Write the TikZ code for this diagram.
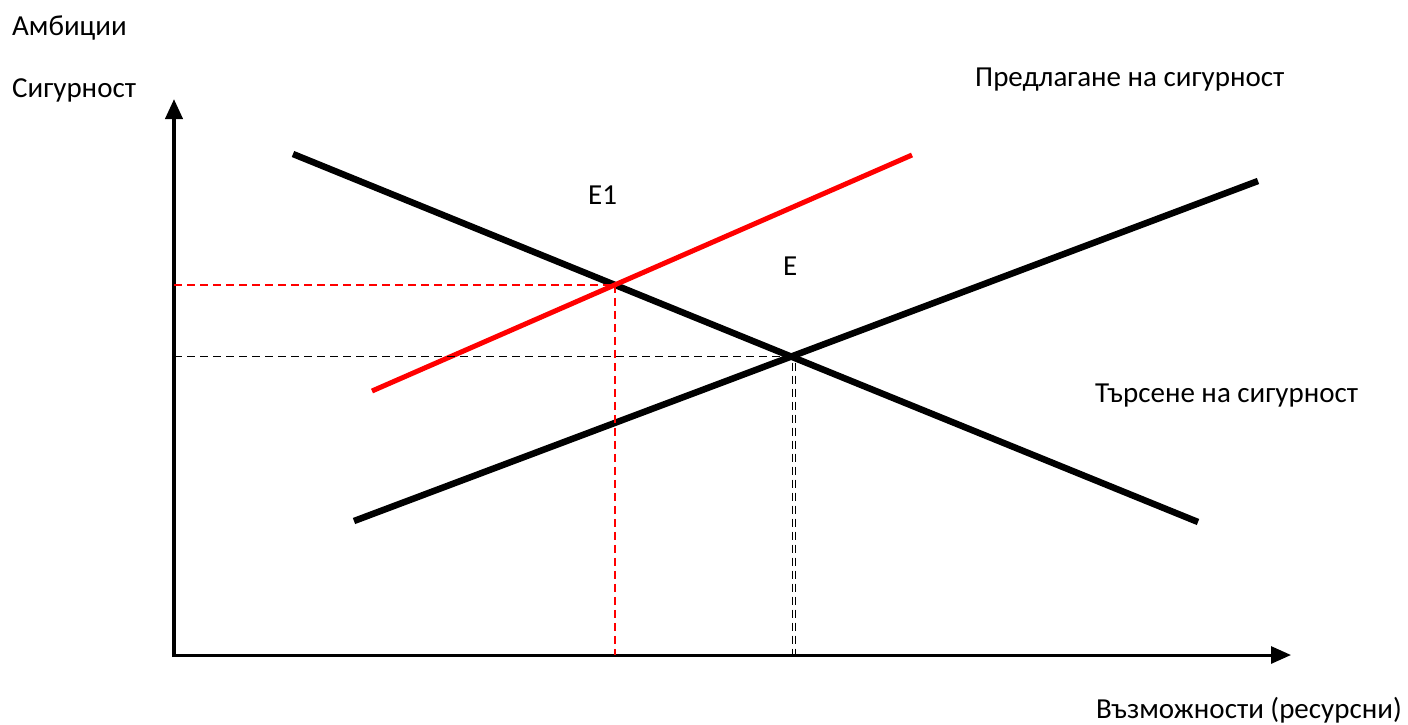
\documentclass[tikz,border=0pt]{standalone}
\usepackage{fontspec}
\setmainfont{Carlito}
\usetikzlibrary{arrows.meta,calc}
\begin{document}
\begin{tikzpicture}[x=1pt,y=-1pt,
  lbl/.style={font=\fontsize{29}{34}\selectfont, inner sep=0pt, text=black},
  axis/.style={-{Triangle[length=20pt,width=17pt]}},
  curve/.style={line width=6.5pt},
  redcurve/.style={line width=5pt, red},
  guide/.style={line width=1.8pt, dash pattern=on 8pt off 5pt}
]
\useasboundingbox (0,0) rectangle (1408,724);
% axes
\coordinate (O) at (174,655);
\coordinate (ytip) at (174,99);
\coordinate (xtip) at (1291,655);
\draw[axis, line width=4pt] ($(O)+(0,2)$) -- (ytip);
\draw[axis, line width=3pt] ($(O)+(-2,0)$) -- (xtip);
% curves
\coordinate (d1) at (293,154);
\coordinate (d2) at (1198,522);
\coordinate (s1) at (354,521);
\coordinate (s2) at (1258,181);
\coordinate (r1) at (372,391);
\coordinate (r2) at (912,155);
\draw[curve] (d1) -- (d2);
\draw[curve] (s1) -- (s2);
\draw[redcurve] (r1) -- (r2);
% equilibria
\coordinate (E) at (intersection of d1--d2 and s1--s2);
\coordinate (E1) at (intersection of d1--d2 and r1--r2);
\coordinate (Ey) at (O |- E);
\coordinate (E1y) at (O |- E1);
\coordinate (Ex) at (E |- O);
\coordinate (E1x) at (E1 |- O);
\draw[guide, red] (E1y) -- (E1);
\draw[guide, red] (E1) -- (E1x);
\draw[guide, black] (Ey) -- (E);
\draw[guide, black, line width=1.4pt] ($(E)+(1,6)$) -- ($(Ex)+(1,0)$);
\draw[guide, black, line width=1.4pt] ($(E)+(4.5,6)$) -- ($(Ex)+(4.5,0)$);
% labels
\node[lbl, anchor=base west] (amb) at (12,35) {Амбиции};
\node[lbl, anchor=base west] (sig) at (12,97) {Сигурност};
\node[lbl, anchor=base west] (supply) at (975,86) {Предлагане на сигурност};
\node[lbl, anchor=base west] (demand) at (1095,402) {Търсене на сигурност};
\node[lbl, anchor=base east] (xlab) at (1402,718) {Възможности (ресурсни)};
\node[lbl, anchor=base west] (e1lbl) at (588,204) {E1};
\node[lbl, anchor=base west] (elbl) at (783,275) {E};
\end{tikzpicture}
\end{document}
